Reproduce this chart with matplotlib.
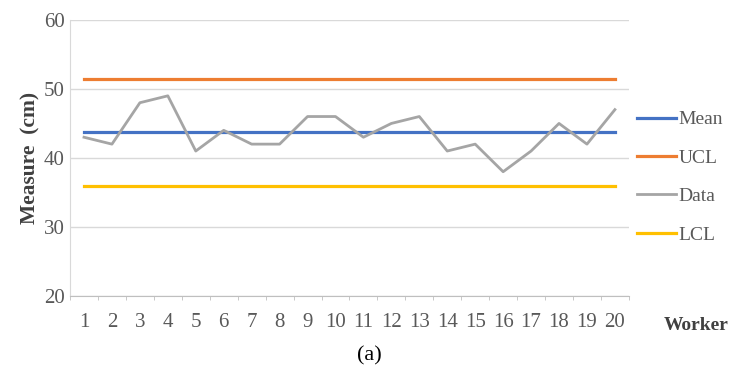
import numpy as np
import matplotlib.pyplot as plt

plt.rcParams['font.family'] = ['Liberation Serif', 'DejaVu Serif']

workers = np.arange(1, 21)
data = [43, 42, 48, 49, 41, 44, 42, 42, 46, 46, 43, 45, 46, 41, 42, 38, 41, 45, 42, 47]
mean_value = 43.8
ucl_value = 51.45
lcl_value = 35.9

fig = plt.figure(figsize=(7.31, 3.69), dpi=100)
ax = fig.add_axes([0.0958, 0.198, 0.7645, 0.748])

ax.plot(workers, [mean_value] * len(workers), color='#4472C4', lw=2.3, label='Mean', zorder=3)
ax.plot(workers, [ucl_value] * len(workers), color='#ED7D31', lw=2.3, label='UCL', zorder=3)
ax.plot(workers, data, color='#A5A5A5', lw=2.0, label='Data', zorder=4)
ax.plot(workers, [lcl_value] * len(workers), color='#FFC000', lw=2.3, label='LCL', zorder=3)

ax.set_xlim(0.5, 20.5)
ax.set_ylim(20, 60)
ax.set_yticks([20, 30, 40, 50, 60])
ax.set_xticks(workers)
ax.set_xticks(np.arange(0.5, 21, 1), minor=True)
ax.grid(axis='y', color='#D9D9D9', lw=1.0)
ax.set_axisbelow(True)

for side in ['top', 'right']:
    ax.spines[side].set_visible(False)
ax.spines['left'].set_color('#D9D9D9')
ax.spines['bottom'].set_color('#BFBFBF')
ax.tick_params(axis='y', length=0, labelsize=15, labelcolor='#595959', pad=4)
ax.tick_params(axis='x', which='major', length=0, labelsize=15, labelcolor='#595959', pad=12)
ax.tick_params(axis='x', which='minor', length=3, color='#BFBFBF')

ax.set_ylabel('Measure  (cm)', fontsize=15.5, fontweight='bold', color='#404040', labelpad=2)
fig.text(0.952, 0.117, 'Worker', fontsize=14, fontweight='bold', color='#404040',
         ha='center', va='center')
fig.text(0.505, 0.035, '(a)', fontsize=16, color='black', ha='center', va='center')

leg = ax.legend(loc='upper left', bbox_to_anchor=(0.99, 0.72), frameon=False,
                fontsize=14, handlelength=2.0, handletextpad=0.15,
                labelspacing=1.07, borderaxespad=0.3)
for text in leg.get_texts():
    text.set_color('#595959')

fig.savefig('out.png', dpi=100)
